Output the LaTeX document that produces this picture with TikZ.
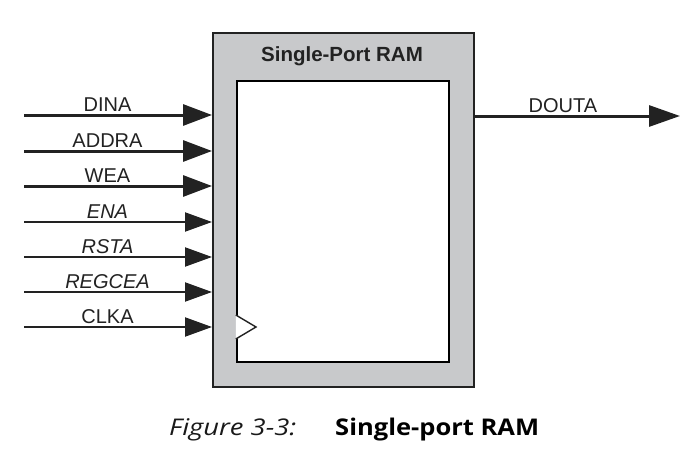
\documentclass[tikz,border=0pt]{standalone}
\usepackage{fontspec}
\setmainfont{Liberation Sans}
\newfontfamily\capfont{Open Sans}
\usetikzlibrary{arrows.meta}
\definecolor{boxgray}{HTML}{C8C9CB}
\definecolor{ink}{HTML}{222222}
\tikzset{
  outerbox/.style={draw=ink, line width=2pt, fill=boxgray, minimum width=261pt, minimum height=354pt, inner sep=0pt},
  innerbox/.style={draw=black, line width=2.4pt, fill=white, minimum width=212pt, minimum height=281pt, inner sep=0pt},
  sig/.style={font=\fontsize{20}{20}\selectfont, inner sep=0pt, anchor=base, text=ink},
  busline/.style={draw=ink, line width=3pt, -{Triangle[length=29pt,width=21pt]}},
  bitline/.style={draw=ink, line width=2pt, -{Triangle[length=27pt,width=19pt]}},
  captionstyle/.style={anchor=base west, inner sep=0pt, text=black},
}
\begin{document}
\begin{tikzpicture}[x=1pt,y=-1pt]
\useasboundingbox (0,0) rectangle (694,452);
\node[outerbox] (ram) at (343.5,210) {};
\node[innerbox] (core) at (343,221.5) {};
\node[font=\bfseries\fontsize{20.5}{20.5}\selectfont, text=ink, inner sep=0pt] (title) at (342,56) {Single-Port RAM};
% clock triangle
\draw[ink, line width=1.4pt, fill=white, line join=miter] (core.west |- 0,315) coordinate (ck1) -- (256,327) coordinate (ck2) -- (core.west |- 0,339) coordinate (ck3);
% inputs
\foreach \nm/\yy/\st/\lab in {dina/115/busline/DINA, addra/151/busline/ADDRA, wea/186/busline/WEA,
  ena/222/bitline/\itshape ENA, rsta/257/bitline/\itshape RSTA, regcea/292/bitline/\itshape REGCEA, clka/327/bitline/CLKA}{
  \coordinate (\nm-s) at (24,\yy);
  \coordinate (\nm-e) at (ram.west |- \nm-s);
  \draw[\st] (\nm-s) -- (\nm-e);
  \node[sig] (\nm-l) at (107.5,\yy-3.5) {\lab};
}
% output
\coordinate (douta-s) at (ram.east |- 0,116);
\coordinate (douta-e) at (680,116);
\draw[busline, -{Triangle[length=31pt,width=21pt]}] (douta-s) -- (douta-e);
\node[sig] (douta-l) at (563,112.5) {DOUTA};
% caption
\node[captionstyle, font=\capfont\itshape\fontsize{23}{23}\selectfont, text=black!90] (capnum) at (169,435.5) {\scalebox{1.19}[1]{Figure 3-3:}};
\node[captionstyle, font=\capfont\bfseries\fontsize{23}{23}\selectfont] (captext) at (335,435.5) {\scalebox{1.11}[1]{Single-port RAM}};
\end{tikzpicture}
\end{document}
